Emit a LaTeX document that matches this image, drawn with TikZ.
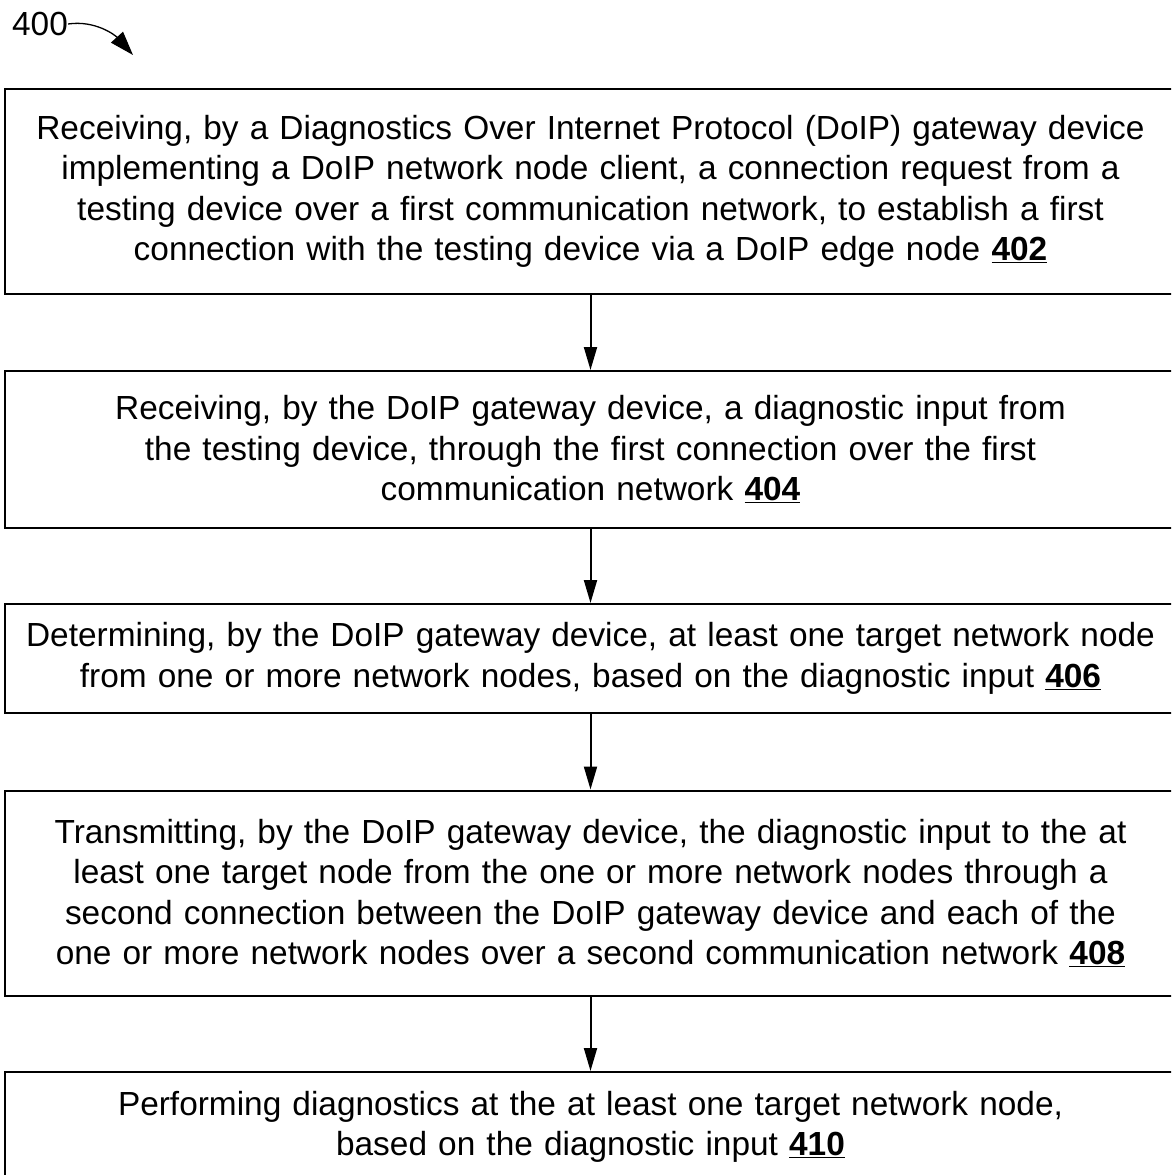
\documentclass[tikz,border=0pt]{standalone}
\usepackage{fontspec}
\setmainfont{Liberation Sans}
\usetikzlibrary{arrows.meta}

\newcommand{\stepno}[1]{\textbf{\underline{#1}}}

\tikzset{
  stepbox/.style={draw, line width=2pt, rectangle, minimum width=1171pt,
    text width=1160pt, align=center, inner sep=0pt,
    font=\fontsize{33.4}{40.5}\selectfont},
  flowarrow/.style={line width=2pt, -{Triangle[length=23pt,width=13pt]}},
  reflabel/.style={font=\fontsize{33.4}{38}\selectfont, inner sep=0pt}
}

\begin{document}
\begin{tikzpicture}[x=1pt,y=-1pt]
  \useasboundingbox (0,0) rectangle (1171,1175);
  \clip (0,0) rectangle (1171,1175);

  % figure reference numeral with its curved pointer
  \node[reflabel] (fig) at (40,24) {400};
  \coordinate (figtip) at (133,55);
  \draw[line width=1.3pt, -{Triangle[length=24pt,width=16pt]}]
    (fig.east) .. controls (95,20) and (115,35) .. (figtip);

  % process steps
  \node[stepbox, minimum height=205pt] (s402) at (590.5,191.5)
    {Receiving, by a Diagnostics Over Internet Protocol (DoIP) gateway device\\
     implementing a DoIP network node client, a connection request from a\\
     testing device over a first communication network, to establish a first\\
     connection with the testing device via a DoIP edge node \stepno{402}};

  \node[stepbox, minimum height=157pt] (s404) at (590.5,449.5)
    {Receiving, by the DoIP gateway device, a diagnostic input from\\
     the testing device, through the first connection over the first\\
     communication network \stepno{404}};

  \node[stepbox, minimum height=109pt] (s406) at (590.5,658.5)
    {Determining, by the DoIP gateway device, at least one target network node\\
     from one or more network nodes, based on the diagnostic input \stepno{406}};

  \node[stepbox, minimum height=205pt] (s408) at (590.5,893)
    {Transmitting, by the DoIP gateway device, the diagnostic input to the at\\
     least one target node from the one or more network nodes through a\\
     second connection between the DoIP gateway device and each of the\\
     one or more network nodes over a second communication network \stepno{408}};

  \node[stepbox, minimum height=110pt] (s410) at (590.5,1127)
    {Performing diagnostics at the at least one target network node,\\
     based on the diagnostic input \stepno{410}};

  % connectors between consecutive steps
  \draw[flowarrow] (s402.south) -- (s404.north);
  \draw[flowarrow] (s404.south) -- (s406.north);
  \draw[flowarrow] (s406.south) -- (s408.north);
  \draw[flowarrow] (s408.south) -- (s410.north);
\end{tikzpicture}
\end{document}
